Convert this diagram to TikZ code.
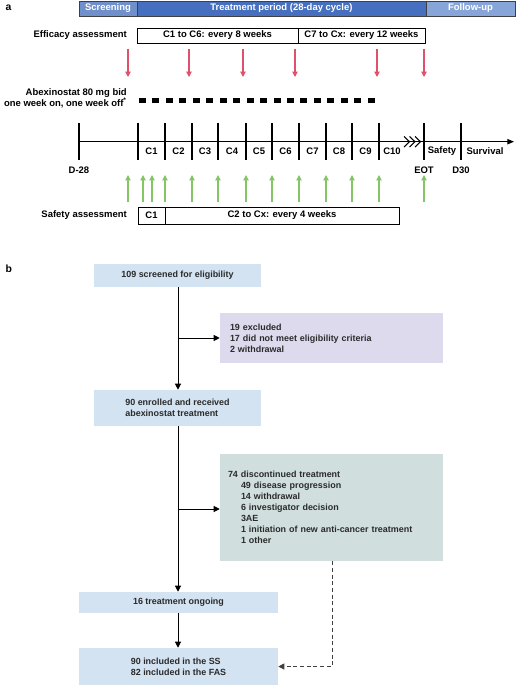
\documentclass[tikz,border=0pt]{standalone}
\usepackage{fontspec}
\setmainfont{Liberation Sans}
\usetikzlibrary{arrows.meta}
\definecolor{hdrA}{HTML}{7090CC}
\definecolor{hdrB}{HTML}{4670BF}
\definecolor{hdrC}{HTML}{88A5D9}
\definecolor{effred}{HTML}{E0506B}
\definecolor{safgreen}{HTML}{85C565}
\definecolor{boxblue}{HTML}{D3E3F1}
\definecolor{boxpurple}{HTML}{DDDAEE}
\definecolor{boxgreen}{HTML}{D0DFDE}
\definecolor{txtgray}{HTML}{2A2A2A}
\def\px{0.75pt}
\begin{document}
\begin{tikzpicture}[x=0.75pt,y=-0.75pt,
  font=\fontsize{7.1}{8.6}\selectfont\bfseries,
  hdr/.style={draw=black!75, line width=0.6pt, text=white, inner sep=0pt, minimum height={15*\px}},
  abox/.style={draw=black, line width=0.6pt, inner sep=0pt, minimum height={15*\px}},
  sbox/.style={draw=black, line width=0.6pt, inner sep=0pt, minimum height={17*\px}},
  rlab/.style={anchor=east, inner xsep=0pt},
  redarr/.style={draw=effred, line width=0.8pt, -{Triangle[width=4pt,length=4pt]}},
  grnarr/.style={draw=safgreen, line width=0.8pt, -{Triangle[width=4pt,length=4pt]}},
  tick/.style={line width=1.1pt},
  fbox/.style={fill=boxblue, inner sep=0pt, text=txtgray, align=left, font=\fontsize{6.7}{8.25}\selectfont\bfseries},
  lbox/.style={inner ysep=0pt, text=txtgray, align=left, font=\fontsize{6.7}{8.25}\selectfont\bfseries},
  flow/.style={line width=0.75pt, -{Triangle[width=4.5pt,length=4.5pt]}}
]
\useasboundingbox (0,0) rectangle (516,685);

% panel labels
\node[anchor=west, font=\fontsize{7.8}{9}\selectfont\bfseries] (la) at (1,8) {a};
\node[anchor=west, font=\fontsize{7.8}{9}\selectfont\bfseries] (lb) at (1,269) {b};

% header
\node[hdr, fill=hdrA, minimum width={58*\px}] (scr) at (108,8.5) {Screening};
\node[hdr, fill=hdrB, minimum width={289*\px}] (trt) at (281.5,8.5) {Treatment period (28-day cycle)};
\node[hdr, fill=hdrC, minimum width={89*\px}] (fol) at (470.5,8.5) {Follow-up};

% efficacy
\node[rlab] (efftxt) at (127,35.5) {Efficacy assessment};
\node[abox, minimum width={161*\px}] (eff1) at (217.5,35.5) {C1 to C6: every 8 weeks};
\node[abox, minimum width={127*\px}] (eff2) at (361.5,35.5) {C7 to Cx: every 12 weeks};
\foreach \x in {128,189,243,295,377,424}
  \draw[redarr] (\x,49) -- (\x,77);

% abexinostat
\node[rlab, align=right] (abx) at (127,98.5) {Abexinostat 80 mg bid\\one week on, one week off\textsuperscript{*}};
\foreach \i in {0,...,17}
  \fill ({139+13.45*\i},98) rectangle ++(7,4.6);

% timeline
\draw[line width=0.75pt, -{Triangle[width=4pt,length=5pt]}] (79,141.7) -- (514,141.7);
\foreach \x in {79,138,165,192,218,246,272,299,326,352,379,424,461}
  \draw[tick] (\x,123) -- (\x,160);
\foreach \x in {404,409.5,415}
  \draw[line width=0.8pt] (\x,136.5) -- (\x+5.5,141.7) -- (\x,147);
\foreach \x/\t in {151.5/C1,178.5/C2,205/C3,232/C4,259/C5,285.5/C6,312.5/C7,339/C8,365.5/C9,392/C10,442/Safety,485/Survival}
  \node (c\t) at (\x,151) {\t};
\node (d28) at (79,170) {D-28};
\node (eot) at (424,170) {EOT};
\node (d30) at (461,170) {D30};

% safety
\foreach \x in {128,143,152,165,192,218,246,272,299,326,352,379,424}
  \draw[grnarr] (\x,202) -- (\x,175);
\node[rlab] (saftxt) at (127,215.5) {Safety assessment};
\node[sbox, minimum width={27*\px}] (saf1) at (151.5,215.5) {C1};
\node[sbox, minimum width={234*\px}] (saf2) at (282,215.5) {C2 to Cx: every 4 weeks};

% flowchart
\node[fbox, minimum width={167*\px}, minimum height={23*\px}] (scrn) at (177.5,275.5) {109 screened for eligibility};
\node[lbox, fill=boxpurple, inner xsep={10*\px}, text width={203*\px}, minimum height={50*\px}] (excl) at (331.5,338)
  {19 excluded\\17 did not meet eligibility criteria\\2 withdrawal};
\node[fbox, minimum width={167*\px}, minimum height={36*\px}] (enr) at (177.5,408)
  {90 enrolled and received\\abexinostat treatment};
\node[lbox, fill=boxgreen, inner xsep={8*\px}, text width={207*\px}, minimum height={107*\px}] (disc) at (331.5,507.5)
  {74 discontinued treatment\\
   \hspace*{9.75pt}49 disease progression\\
   \hspace*{9.75pt}14 withdrawal\\
   \hspace*{9.75pt}6 investigator decision\\
   \hspace*{9.75pt}3AE\\
   \hspace*{9.75pt}1 initiation of new anti-cancer treatment\\
   \hspace*{9.75pt}1 other};
\node[fbox, minimum width={199*\px}, minimum height={21*\px}] (ongo) at (178.5,602.5) {16 treatment ongoing};
\node[fbox, minimum width={199*\px}, minimum height={37*\px}] (incl) at (178.5,666.5)
  {90 included in the SS\\82 included in the FAS};

\coordinate (b1) at (178,338);
\coordinate (b2) at (178,509);
\coordinate (dc) at (332,666.5);
\draw[flow] (scrn.south -| b1) -- (enr.north -| b1);
\draw[flow] (b1) -- (excl.west |- b1);
\draw[flow] (enr.south -| b1) -- (ongo.north -| b1);
\draw[flow] (b2) -- (disc.west |- b2);
\draw[flow] (ongo.south -| b1) -- (incl.north -| b1);
\draw[line width=0.75pt, dash pattern=on 3pt off 2pt, draw=black!75, -{Triangle[width=4.5pt,length=4.5pt]}] (disc.south -| dc) -- (dc) -- (incl.east |- dc);
\end{tikzpicture}
\end{document}
